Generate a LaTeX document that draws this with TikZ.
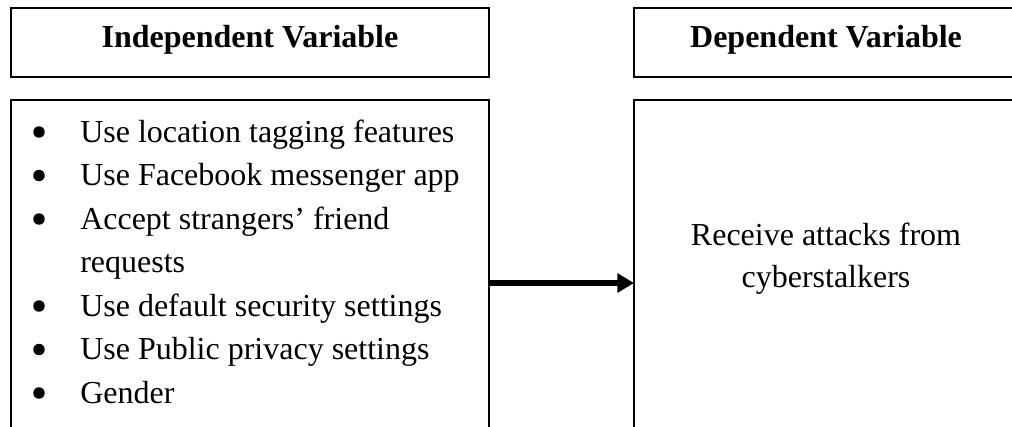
\documentclass[tikz,border=0pt]{standalone}
\usepackage{fontspec}
\setmainfont{Liberation Serif}
\usetikzlibrary{arrows.meta}
\begin{document}
\begin{tikzpicture}[x=0.75pt,y=-0.75pt,
  box/.style={draw,line width=1.2pt,inner sep=0pt,outer sep=0pt},
  title/.style={font=\fontsize{24}{29}\selectfont\bfseries,inner sep=0pt,anchor=base},
  body/.style={font=\fontsize{24}{29}\selectfont,inner sep=0pt,anchor=base west},
  centred/.style={font=\fontsize{24}{29}\selectfont,inner sep=0pt,anchor=base},
  bul/.style={circle,fill,inner sep=0pt,minimum size=8.6pt},
  link/.style={line width=4pt,-{Triangle[length=12.5pt,width=14pt]}}]
\useasboundingbox (0,0) rectangle (1012,426);
\clip (0,0) rectangle (1012,426);

% header boxes
\node[box,minimum width=358.5pt,minimum height=51.75pt] (ivhead) at (250,42.5) {};
\node[box,minimum width=288pt,minimum height=51.75pt] (dvhead) at (826,42.5) {};
\node[title] (ivtitle) at (250,47) {Independent Variable};
\node[title] (dvtitle) at (826,47) {Dependent Variable};

% content boxes
\node[box,minimum width=358.5pt,minimum height=274.5pt] (ivbox) at (250,283) {};
\node[box,minimum width=288pt,minimum height=274.5pt] (dvbox) at (826,283) {};

% independent variables (bullet centres sit 10px above each baseline)
\node[bul] (b1) at (39,132) {};
\node[body] (i1) at (80,142) {Use location tagging features};
\node[bul] (b2) at (39,175.5) {};
\node[body] (i2) at (80,185.5) {Use Facebook messenger app};
\node[bul] (b3) at (39,219) {};
\node[body] (i3) at (80,229) {Accept strangers’ friend};
\node[body] (i3b) at (80,272.5) {requests};
\node[bul] (b4) at (39,306) {};
\node[body] (i4) at (80,316) {Use default security settings};
\node[bul] (b5) at (39,349.5) {};
\node[body] (i5) at (80,359.5) {Use Public privacy settings};
\node[bul] (b6) at (39,393) {};
\node[body] (i6) at (80,403) {Gender};

% dependent variable
\node[centred] (d1) at (826,245) {Receive attacks from};
\node[centred] (d2) at (826,287) {cyberstalkers};

% relation
\draw[link] (ivbox.east) -- (dvbox.west);
\end{tikzpicture}
\end{document}
